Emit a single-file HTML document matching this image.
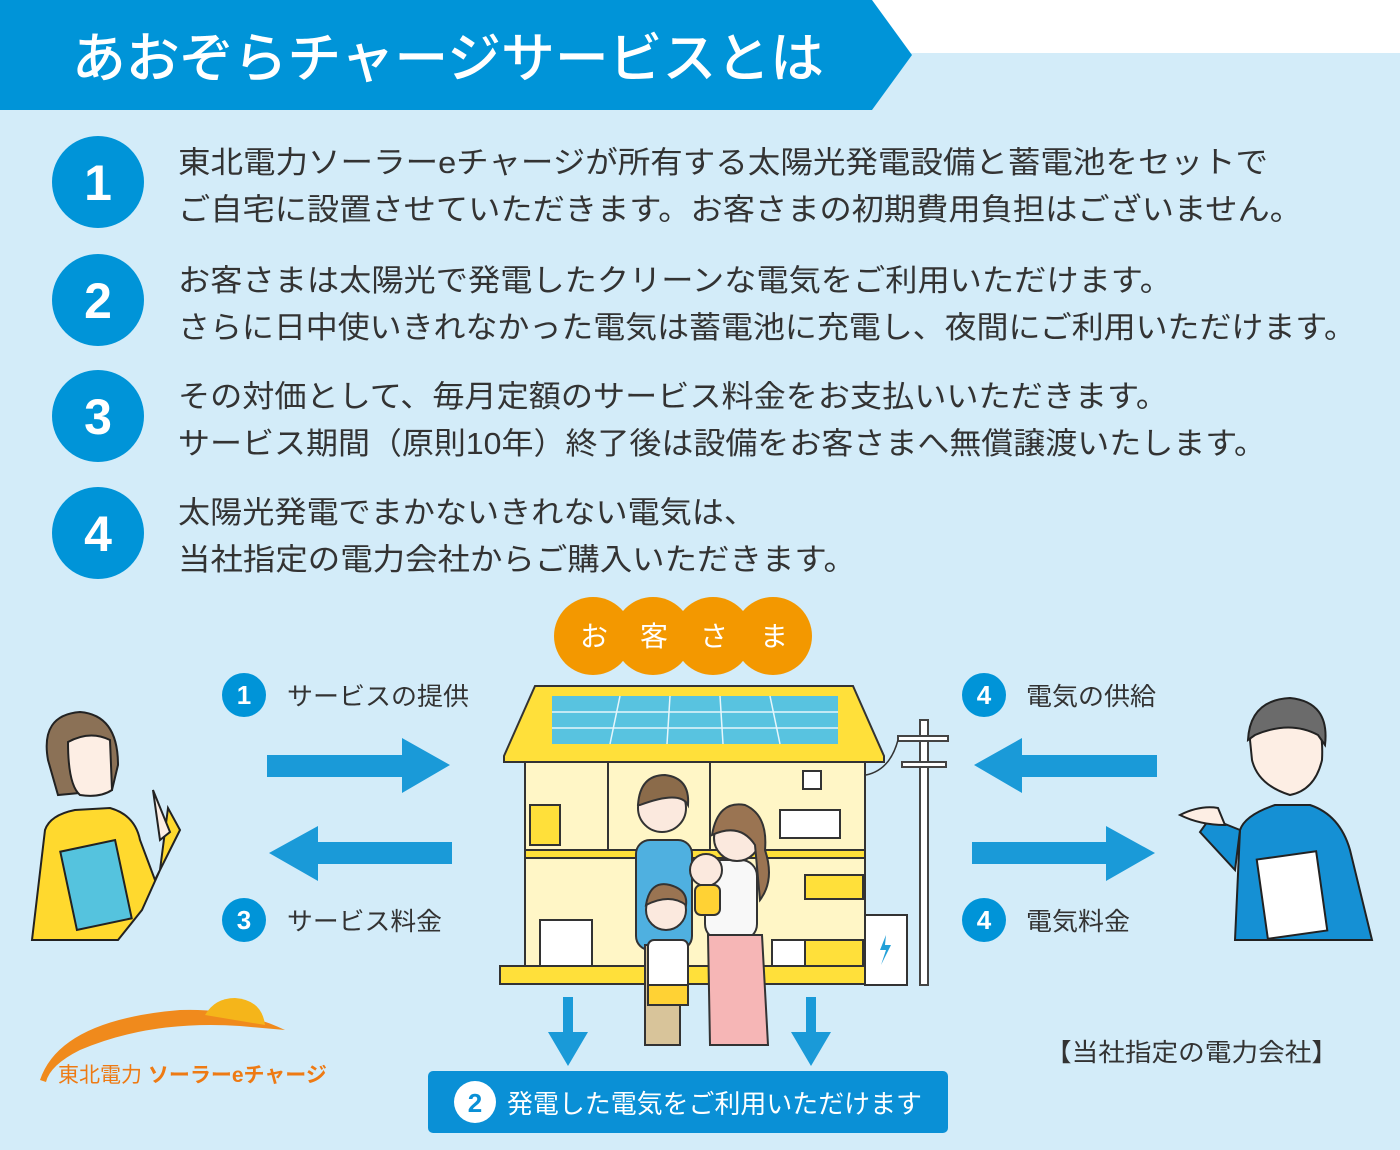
<!DOCTYPE html>
<html><head><meta charset="utf-8">
<style>
html,body{margin:0;padding:0;background:#d3ecf9;}
svg{display:block;font-family:"Liberation Sans","Noto Sans CJK JP",sans-serif;}
</style></head>
<body>
<svg width="1400" height="1150" viewBox="0 0 1400 1150" xmlns="http://www.w3.org/2000/svg">
<rect width="1400" height="1150" fill="#d3ecf9"/>
<rect x="0" y="0" width="1400" height="53" fill="#ffffff"/>
<polygon points="0,0 872,0 912,55 872,110 0,110" fill="#0094d8"/>
<text x="72" y="77" font-size="54" fill="#fff" font-weight="500" textLength="752" lengthAdjust="spacingAndGlyphs">あおぞらチャージサービスとは</text>

<g fill="#0094d8">
<circle cx="98" cy="182" r="46"/><circle cx="98" cy="300" r="46"/><circle cx="98" cy="416" r="46"/><circle cx="98" cy="533" r="46"/>
</g>
<g fill="#fff" font-size="50" font-weight="bold" text-anchor="middle">
<text x="98" y="200">1</text><text x="98" y="318">2</text><text x="98" y="434">3</text><text x="98" y="551">4</text>
</g>
<g fill="#333" font-size="30.5">
<text x="178" y="173" textLength="1090" lengthAdjust="spacingAndGlyphs">東北電力ソーラーeチャージが所有する太陽光発電設備と蓄電池をセットで</text>
<text x="178" y="220" textLength="1124" lengthAdjust="spacingAndGlyphs">ご自宅に設置させていただきます。お客さまの初期費用負担はございません。</text>
<text x="178" y="291" textLength="994" lengthAdjust="spacingAndGlyphs">お客さまは太陽光で発電したクリーンな電気をご利用いただけます。</text>
<text x="178" y="338" textLength="1178" lengthAdjust="spacingAndGlyphs">さらに日中使いきれなかった電気は蓄電池に充電し、夜間にご利用いただけます。</text>
<text x="178" y="407" textLength="990" lengthAdjust="spacingAndGlyphs">その対価として、毎月定額のサービス料金をお支払いいただきます。</text>
<text x="178" y="454" textLength="1088" lengthAdjust="spacingAndGlyphs">サービス期間（原則10年）終了後は設備をお客さまへ無償譲渡いたします。</text>
<text x="178" y="523" textLength="578" lengthAdjust="spacingAndGlyphs">太陽光発電でまかないきれない電気は、</text>
<text x="178" y="570" textLength="678" lengthAdjust="spacingAndGlyphs">当社指定の電力会社からご購入いただきます。</text>
</g>

<g fill="#f39800">
<circle cx="593" cy="636" r="39"/><circle cx="653" cy="636" r="39"/><circle cx="713" cy="636" r="39"/><circle cx="773" cy="636" r="39"/>
</g>
<g fill="#fff" font-size="28" text-anchor="middle">
<text x="594" y="646">お</text><text x="654" y="646">客</text><text x="714" y="646">さ</text><text x="774" y="646">ま</text>
</g>

<g fill="#0094d8">
<circle cx="244" cy="695" r="22"/><circle cx="244" cy="920" r="22"/><circle cx="984" cy="695" r="22"/><circle cx="984" cy="920" r="22"/>
</g>
<g fill="#fff" font-size="26" font-weight="bold" text-anchor="middle">
<text x="244" y="704">1</text><text x="244" y="929">3</text><text x="984" y="704">4</text><text x="984" y="929">4</text>
</g>
<g fill="#333" font-size="25">
<text x="287" y="705" textLength="182" lengthAdjust="spacingAndGlyphs">サービスの提供</text><text x="287" y="930" textLength="155" lengthAdjust="spacingAndGlyphs">サービス料金</text>
<text x="1026" y="705" textLength="130" lengthAdjust="spacingAndGlyphs">電気の供給</text><text x="1026" y="930" textLength="104" lengthAdjust="spacingAndGlyphs">電気料金</text>
<text x="1045" y="1061" textLength="293" lengthAdjust="spacingAndGlyphs">【当社指定の電力会社】</text>
</g>

<g fill="#1a9ad8">
<polygon points="267,755 402,755 402,738 450,765 402,793 402,777 267,777"/>
<polygon points="452,842 318,842 318,826 269,853 318,881 318,864 452,864"/>
<polygon points="1157,755 1022,755 1022,738 974,765 1022,793 1022,777 1157,777"/>
<polygon points="972,842 1106,842 1106,826 1155,853 1106,881 1106,864 972,864"/>
<polygon points="563,997 573,997 573,1032 588,1032 568,1066 548,1032 563,1032"/>
<polygon points="806,997 816,997 816,1032 831,1032 811,1066 791,1032 806,1032"/>
</g>
<rect x="428" y="1071" width="520" height="62" rx="5" fill="#0a90d6"/>
<circle cx="475" cy="1102" r="21" fill="#fff"/>
<text x="475" y="1112" fill="#0a90d6" font-size="26" font-weight="bold" text-anchor="middle">2</text>
<text x="507" y="1113" fill="#fff" font-size="26" textLength="415" lengthAdjust="spacingAndGlyphs">発電した電気をご利用いただけます</text>

<g stroke="#333" stroke-width="2">
<rect x="525" y="760" width="340" height="215" fill="#fff6c6"/>
<polygon points="535,686 853,686 884,756 884,762 504,762 504,756" fill="#ffe03a"/>
<polygon points="552,696 838,696 838,744 552,744" fill="#58c3e0" stroke="none"/>
<g stroke="#e6f6fb" stroke-width="1.5">
<line x1="552" y1="712" x2="838" y2="712"/><line x1="552" y1="728" x2="838" y2="728"/>
<line x1="620" y1="696" x2="610" y2="744"/><line x1="670" y1="696" x2="667" y2="744"/><line x1="720" y1="696" x2="723" y2="744"/><line x1="770" y1="696" x2="780" y2="744"/>
</g>
<rect x="500" y="966" width="370" height="18" fill="#ffe03a"/>
<rect x="525" y="850" width="340" height="8" fill="#ffe03a"/>
<line x1="608" y1="762" x2="608" y2="850"/><line x1="710" y1="762" x2="710" y2="850"/>
<rect x="865" y="915" width="42" height="70" fill="#fff"/>
<rect x="803" y="771" width="18" height="18" fill="#fff"/>
<rect x="780" y="810" width="60" height="28" fill="#fff"/>
<rect x="540" y="920" width="52" height="46" fill="#fff"/>
<rect x="772" y="940" width="35" height="26" fill="#fff"/>
<rect x="530" y="805" width="30" height="40" fill="#ffe03a"/>
<rect x="805" y="940" width="58" height="26" fill="#ffe03a"/>
<rect x="805" y="875" width="58" height="24" fill="#ffe03a"/>
</g>
<polygon points="886,935 880,950 886,950 881,965 891,945 885,945" fill="#22a0d8"/>
<g stroke="#444" stroke-width="2" fill="#fff">
<rect x="920" y="720" width="8" height="265"/>
<rect x="898" y="736" width="50" height="5"/><rect x="902" y="762" width="44" height="5"/>
</g>
<path d="M866,775 Q890,770 898,740" stroke="#333" fill="none" stroke-width="1.5"/>

<g stroke="#333" stroke-width="2">
<rect x="636" y="840" width="56" height="110" rx="14" fill="#4fb0e0"/>
<rect x="645" y="945" width="35" height="100" fill="#d8c49a"/>
<circle cx="662" cy="808" r="24" fill="#fbe9de"/>
<path d="M638,805 Q640,775 665,775 Q690,778 688,805 Q680,790 640,805Z" fill="#8b6b4a"/>
<rect x="705" y="860" width="52" height="80" rx="16" fill="#f8f8f8"/>
<path d="M708,935 L762,935 L768,1045 L710,1045Z" fill="#f6b6b6"/>
<circle cx="737" cy="838" r="23" fill="#fbe9de"/>
<path d="M712,835 Q718,800 745,805 Q768,815 765,850 Q775,880 760,900 L755,845 Q740,822 712,835Z" fill="#9a7452"/>
<circle cx="706" cy="870" r="16" fill="#fbe9de"/>
<rect x="695" y="885" width="25" height="30" rx="6" fill="#ffd234"/>
<rect x="648" y="940" width="40" height="60" rx="6" fill="#fff"/>
<rect x="648" y="985" width="40" height="20" fill="#ffd234"/>
<circle cx="666" cy="910" r="20" fill="#fbe9de"/>
<path d="M646,905 Q650,880 670,885 Q688,890 686,905 Q670,893 646,905Z" fill="#9a7452"/>
</g>

<g stroke="#222" stroke-width="2">
<path d="M32,940 L45,830 Q50,815 75,810 L110,808 Q135,815 140,840 L155,880 L180,830 L168,808 L160,870 L142,910 L118,940Z" fill="#ffd92e"/>
<rect x="68" y="845" width="56" height="80" transform="rotate(-12 96 885)" fill="#55c3de"/>
<path d="M48,760 Q40,715 80,712 Q118,715 118,765 L112,790 L58,795Z" fill="#8b7156"/>
<path d="M68,742 Q90,730 110,740 L112,790 Q100,798 80,795 Q68,785 68,742Z" fill="#fdeee4"/>
<path d="M153,790 L160,840 L170,832Z" fill="#fdeee4"/>
</g>
<g stroke="#222" stroke-width="2">
<path d="M1235,940 L1240,830 Q1245,815 1275,805 L1310,805 Q1340,815 1350,850 L1372,940Z" fill="#1590d4"/>
<path d="M1240,830 L1210,818 L1200,832 L1235,870Z" fill="#1590d4"/>
<rect x="1262" y="855" width="60" height="80" transform="rotate(-8 1292 895)" fill="#fff"/>
<path d="M1250,740 Q1255,700 1290,700 Q1325,705 1322,760 Q1315,790 1290,795 Q1258,785 1252,760Z" fill="#fdeee4"/>
<path d="M1248,740 Q1250,700 1290,698 Q1330,702 1325,745 L1318,735 Q1290,720 1255,735Z" fill="#6b6b6b"/>
<path d="M1180,815 Q1200,805 1218,808 L1225,825 Q1200,825 1180,815Z" fill="#fdeee4"/>
</g>

<path d="M40,1080 Q60,1020 180,1010 Q240,1008 285,1030 L240,1026 Q150,1020 80,1050 Q50,1065 46,1082Z" fill="#f08a1c"/>
<path d="M205,1015 Q215,998 235,998 Q262,1000 265,1025Z" fill="#f5b51a"/>
<text x="58" y="1082" font-size="21" fill="#ee7a13">東北電力 <tspan font-weight="bold">ソーラーeチャージ</tspan></text>
</svg>
</body></html>
